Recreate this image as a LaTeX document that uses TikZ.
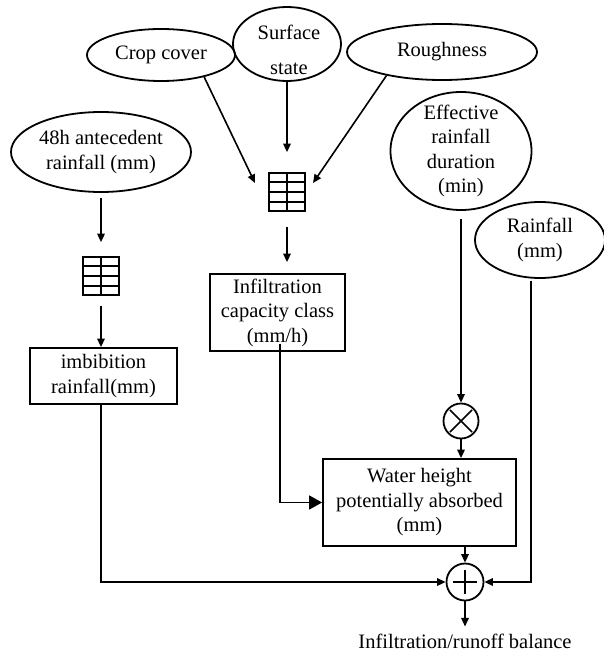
\documentclass[tikz,border=0pt]{standalone}
\usepackage{fontspec}
\setmainfont{Liberation Serif}
\usetikzlibrary{shapes.geometric,arrows.meta,calc}
\begin{document}
\begin{tikzpicture}[x=1pt,y=-1pt,
  every node/.style={font=\fontsize{20.5}{24.5}\selectfont, align=center, inner sep=0pt},
  oval/.style={draw, ellipse, line width=1.8pt},
  box/.style={draw, rectangle, line width=1.8pt},
  ln/.style={line width=1.6pt},
  arr/.style={line width=1.6pt, -{Triangle[length=8.5pt,width=7.5pt]}},
  bigarr/.style={line width=1.6pt, -{Triangle[length=13pt,width=14pt]}},
  opc/.style={draw, circle, line width=1.8pt, minimum size=35pt},
  gridbox/.style={draw, rectangle, line width=1.7pt, minimum width=36pt, minimum height=38pt}
]
\useasboundingbox (0,0) rectangle (603,652);

% input ellipses
\node[oval, minimum width=148pt, minimum height=52pt] (crop) at (161,55) {Crop cover};
\node[oval, minimum width=108pt, minimum height=74pt] (surf) at (287,44) {};
\node (surfA) at (289,32) {Surface};
\node (surfB) at (289,69) {state};
\node[oval, minimum width=190pt, minimum height=56pt] (rough) at (442,52) {Roughness};
\node[oval, minimum width=180pt, minimum height=80pt] (ante) at (101,152) {48h antecedent\\rainfall (mm)};
\node[oval, minimum width=141pt, minimum height=118pt] (eff) at (461,151) {};
\node (effT) at (461,151) {Effective\\rainfall\\duration\\(min)};
\node[oval, minimum width=130pt, minimum height=76pt] (rain) at (540,240) {Rainfall\\(mm)};

% grid (lookup table) icons
\node[gridbox] (g1) at (101,276) {};
\node[gridbox] (g2) at (287,192) {};
\foreach \g in {g1,g2}{
  \draw[ln] (\g.north) -- (\g.south);
  \foreach \f in {0.25,0.5,0.75}{
    \draw[ln] ($(\g.north west)!\f!(\g.south west)$) -- ($(\g.north east)!\f!(\g.south east)$);
  }
}

% boxes
\node[box, minimum width=135pt, minimum height=77pt] (infil) at (277.5,312.5) {Infiltration\\capacity class\\(mm/h)};
\node[box, minimum width=147pt, minimum height=56pt] (imb) at (103.5,376) {imbibition\\rainfall(mm)};
\node[box, minimum width=193pt, minimum height=87pt] (water) at (419.5,502.5) {Water height\\potentially absorbed\\(mm)};

% operators
\node[opc] (mul) at (461,421) {};
\draw[ln] ($(mul.center)!0.85!(mul.45)$) -- ($(mul.center)!0.85!(mul.225)$);
\draw[ln] ($(mul.center)!0.85!(mul.135)$) -- ($(mul.center)!0.85!(mul.315)$);
\node[opc, minimum size=37pt] (plus) at (465,582) {};
\draw[ln] ($(plus.center)!0.62!(plus.north)$) -- ($(plus.center)!0.62!(plus.south)$);
\draw[ln] ($(plus.center)!0.62!(plus.west)$) -- ($(plus.center)!0.62!(plus.east)$);

\node (out) at (465,641) {Infiltration/runoff balance};

% connectors
\draw[arr] (crop.-27) -- ([shift={(-32pt,9pt)}]g2.center);
\draw[arr] (rough.203) -- ([shift={(26pt,9pt)}]g2.center);
\draw[arr] (surf.south -| g2.north) -- ([yshift=20pt]g2.north);
\draw[arr] ([yshift=-15pt]g2.south) -- ($(g2.south |- infil.north)+(0pt,11pt)$);
\draw[arr] ([yshift=-5pt]ante.south) -- ([yshift=14pt]g1.north);
\draw[arr] ([yshift=-10pt]g1.south) -- (g1.south |- imb.north);
\draw[arr] (imb.south -| g1.south) |- (plus.west);
\draw[bigarr] ([shift={(2.5pt,8pt)}]infil.south) |- (water.west);
\draw[arr] ([yshift=-8pt]eff.south) -- (mul.north);
\draw[arr] (mul.south) -- (mul.south |- water.north);
\draw[arr] (water.south -| plus.north) -- (plus.north);
\draw[arr] ([shift={(-9pt,-2pt)}]rain.south) |- (plus.east);
\draw[arr] (plus.south) -- ([yshift=7pt]out.north);
\end{tikzpicture}
\end{document}
